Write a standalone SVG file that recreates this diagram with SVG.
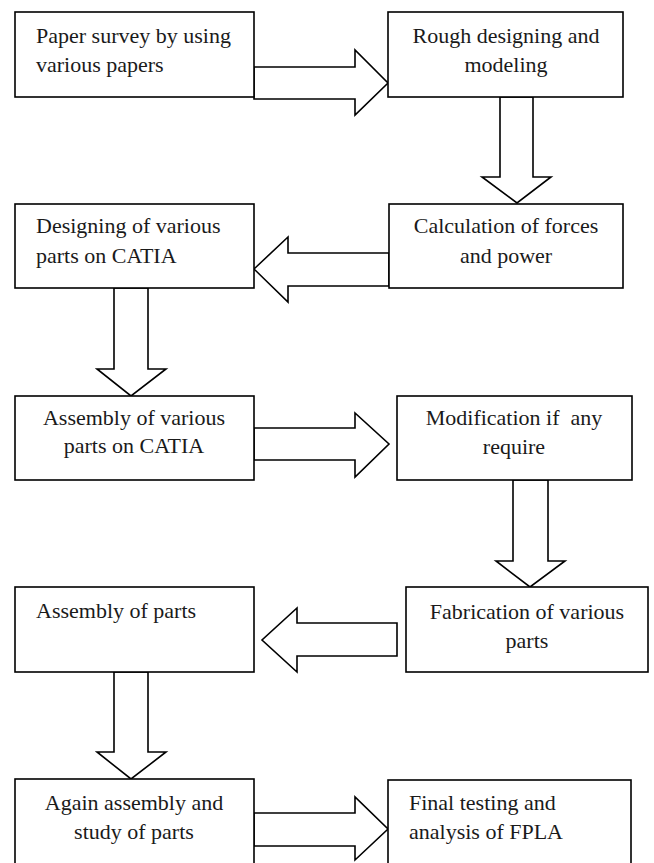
<svg xmlns="http://www.w3.org/2000/svg" width="654" height="863" viewBox="0 0 654 863">
<style>
.box{fill:#fff;stroke:#000;stroke-width:1.6}
.arr{fill:#fff;stroke:#000;stroke-width:1.6;stroke-linejoin:miter}
text{font-family:"Liberation Serif","Times New Roman",serif;font-size:22px;fill:#1a1a1a;white-space:pre}
.c{text-anchor:middle}
</style>
<rect width="654" height="863" fill="#fff"/>
<g id="connectors">
<polygon class="arr" points="254,67 355,67 355,50 388,83 355,115 355,99 254,99"/>
<polygon class="arr" points="500,97 500,177 482,177 517,203 551,177 533,177 533,97"/>
<polygon class="arr" points="389,253 288,253 288,237 254,269 288,302 288,286 389,286"/>
<polygon class="arr" points="114,288 114,369 97,369 131,396 166,369 148,369 148,288"/>
<polygon class="arr" points="254,428 355,428 355,413 389,444 355,477 355,460 254,460"/>
<polygon class="arr" points="513,480 513,561 496,561 530,587 565,561 548,561 548,480"/>
<polygon class="arr" points="397,623 297,623 297,608 262,640 297,672 297,656 397,656"/>
<polygon class="arr" points="114,672 114,752 97,752 131,779 166,752 148,752 148,672"/>
<polygon class="arr" points="254,813 355,813 355,797 388,829 355,860 355,846 254,846"/>
</g>
<g id="n1"><rect class="box" x="15" y="12" width="239" height="85"/><text x="36" y="43">Paper survey by using</text><text x="36" y="72">various papers</text></g>
<g id="n2"><rect class="box" x="388" y="12" width="235" height="85"/><text class="c" x="506" y="43">Rough designing and</text><text class="c" x="506" y="72">modeling</text></g>
<g id="n3"><rect class="box" x="389" y="204" width="234" height="84"/><text class="c" x="506" y="233">Calculation of forces</text><text class="c" x="506" y="263">and power</text></g>
<g id="n4"><rect class="box" x="15" y="204" width="239" height="84"/><text x="36" y="233">Designing of various</text><text x="36" y="263">parts on CATIA</text></g>
<g id="n5"><rect class="box" x="15" y="396" width="239" height="84"/><text class="c" x="134" y="425">Assembly of various</text><text class="c" x="134" y="453">parts on CATIA</text></g>
<g id="n6"><rect class="box" x="397" y="396" width="235" height="84"/><text class="c" x="514" y="425">Modification if  any</text><text class="c" x="514" y="454">require</text></g>
<g id="n7"><rect class="box" x="406" y="587" width="242" height="85"/><text class="c" x="527" y="619">Fabrication of various</text><text class="c" x="527" y="648">parts</text></g>
<g id="n8"><rect class="box" x="15" y="587" width="239" height="85"/><text x="36" y="618">Assembly of parts</text></g>
<g id="n9"><rect class="box" x="15" y="779" width="239" height="110"/><text class="c" x="134" y="810">Again assembly and</text><text class="c" x="134" y="839">study of parts</text></g>
<g id="n10"><rect class="box" x="388" y="780" width="243" height="110"/><text x="409" y="810">Final testing and</text><text x="409" y="839">analysis of FPLA</text></g>
</svg>
